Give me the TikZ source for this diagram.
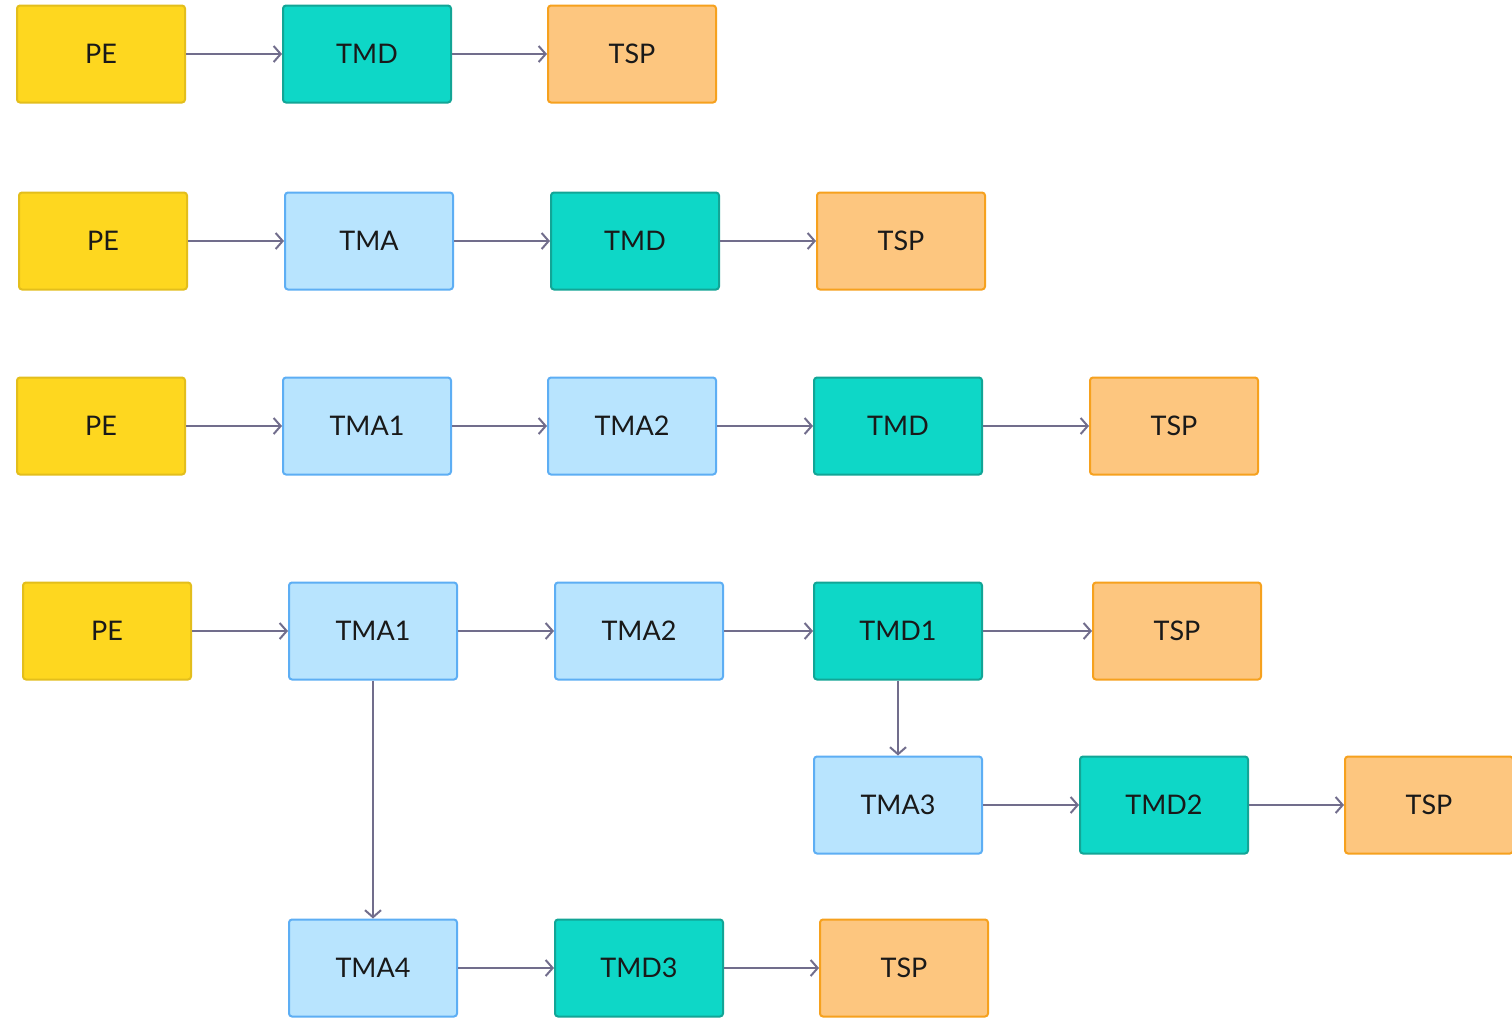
\documentclass[tikz,border=0pt]{standalone}
\usepackage{fontspec}
\setmainfont{Lato}
\usetikzlibrary{arrows.meta}
\definecolor{peFill}{HTML}{FED71F}
\definecolor{peLine}{HTML}{E3BE1C}
\definecolor{tmdFill}{HTML}{0ED7C7}
\definecolor{tmdLine}{HTML}{12A596}
\definecolor{tmaFill}{HTML}{B8E4FE}
\definecolor{tmaLine}{HTML}{5DAEF4}
\definecolor{tspFill}{HTML}{FDC67F}
\definecolor{tspLine}{HTML}{F6A11E}
\definecolor{arrowCol}{HTML}{716D8C}
\tikzset{
  box/.style={rectangle, rounded corners=1.5pt, line width=1pt, minimum width=84pt, minimum height=48.5pt, inner sep=0pt, font=\fontsize{13.5}{16}\selectfont, text=black!90},
  pe/.style={box, fill=peFill, draw=peLine},
  tmd/.style={box, fill=tmdFill, draw=tmdLine},
  tma/.style={box, fill=tmaFill, draw=tmaLine},
  tsp/.style={box, fill=tspFill, draw=tspLine},
  conn/.style={draw=arrowCol, line width=1.2pt, -{Straight Barb[length=3.5pt,width=8pt,line width=1pt]}}
}
\begin{document}
\begin{tikzpicture}[x=0.5pt,y=-0.5pt]
\clip (0,0) rectangle (1512,1024);
\fill[white] (0,0) rectangle (1512,1024);
% row 1
\node[pe]  (a1) at (101,54) {PE};
\node[tmd] (a2) at (367,54) {TMD};
\node[tsp] (a3) at (632,54) {TSP};
% row 2
\node[pe]  (b1) at (103,241) {PE};
\node[tma] (b2) at (369,241) {TMA};
\node[tmd] (b3) at (635,241) {TMD};
\node[tsp] (b4) at (901,241) {TSP};
% row 3
\node[pe]  (c1) at (101,426) {PE};
\node[tma] (c2) at (367,426) {TMA1};
\node[tma] (c3) at (632,426) {TMA2};
\node[tmd] (c4) at (898,426) {TMD};
\node[tsp] (c5) at (1174,426) {TSP};
% row 4
\node[pe]  (d1) at (107,631) {PE};
\node[tma] (d2) at (373,631) {TMA1};
\node[tma] (d3) at (639,631) {TMA2};
\node[tmd] (d4) at (898,631) {TMD1};
\node[tsp] (d5) at (1177,631) {TSP};
% row 5
\node[tma] (e1) at (898,805) {TMA3};
\node[tmd] (e2) at (1164,805) {TMD2};
\node[tsp] (e3) at (1429,805) {TSP};
% row 6
\node[tma] (f1) at (373,968) {TMA4};
\node[tmd] (f2) at (639,968) {TMD3};
\node[tsp] (f3) at (904,968) {TSP};
% connectors
\draw[conn] (a1) -- (a2);
\draw[conn] (a2) -- (a3);
\draw[conn] (b1) -- (b2);
\draw[conn] (b2) -- (b3);
\draw[conn] (b3) -- (b4);
\draw[conn] (c1) -- (c2);
\draw[conn] (c2) -- (c3);
\draw[conn] (c3) -- (c4);
\draw[conn] (c4) -- (c5);
\draw[conn] (d1) -- (d2);
\draw[conn] (d2) -- (d3);
\draw[conn] (d3) -- (d4);
\draw[conn] (d4) -- (d5);
\draw[conn] (d4) -- (e1);
\draw[conn] (e1) -- (e2);
\draw[conn] (e2) -- (e3);
\draw[conn] (d2) -- (f1);
\draw[conn] (f1) -- (f2);
\draw[conn] (f2) -- (f3);
\end{tikzpicture}
\end{document}
